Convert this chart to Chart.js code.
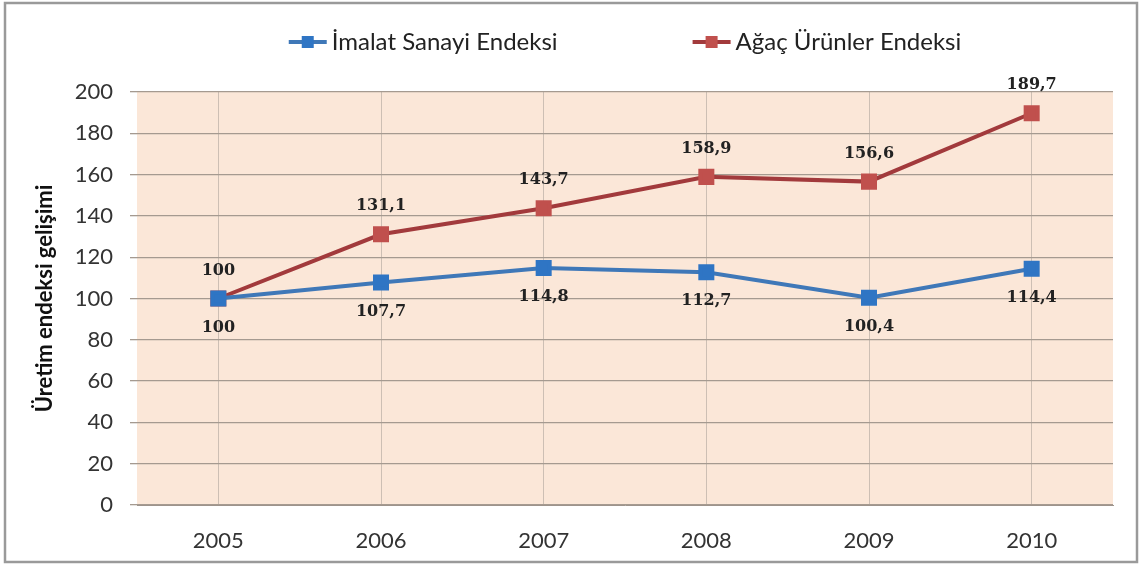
<!DOCTYPE html>
<html>
<head>
<meta charset="utf-8">
<script src="https://cdn.jsdelivr.net/npm/chart.js@4"></script>
<style>
html,body{margin:0;padding:0;background:#fff;}
#wrap{position:absolute;left:0;top:0;width:1141px;height:566px;}
</style>
</head>
<body>
<div id="wrap"><canvas id="c" width="1141" height="566"></canvas></div>
<script>
const years = ['2005','2006','2007','2008','2009','2010'];
const imalat = [100, 107.7, 114.8, 112.7, 100.4, 114.4];
const agac = [100, 131.1, 143.7, 158.9, 156.6, 189.7];
const seriesNames = ['İmalat Sanayi Endeksi', 'Ağaç Ürünler Endeksi'];
const yTitle = 'Üretim endeksi gelişimi';

const BLUE_LINE = '#3F78B8', BLUE_PT = '#2F75C4';
const RED_LINE = '#A23A3C', RED_PT = '#C0504D';

const fmt = v => String(v).replace('.', ',');

const frame = {
  id: 'frame',
  beforeDraw(chart) {
    const {ctx, chartArea: a} = chart;
    ctx.save();
    ctx.fillStyle = '#fff';
    ctx.fillRect(0, 0, chart.width, chart.height);
    ctx.strokeStyle = '#9a9a9a';
    ctx.lineWidth = 2.5;
    ctx.strokeRect(5, 3, 1132, 559);
    ctx.fillStyle = '#FBE7D8';
    ctx.fillRect(a.left, a.top, a.right - a.left, a.bottom - a.top);
    ctx.restore();
  }
};

const labels = {
  id: 'labels',
  afterDatasetsDraw(chart) {
    const ctx = chart.ctx;
    ctx.save();
    ctx.font = 'bold 16px "DejaVu Serif"';
    ctx.fillStyle = '#222';
    ctx.textAlign = 'center';
    ctx.textBaseline = 'middle';
    chart.data.datasets.forEach((ds, i) => {
      const meta = chart.getDatasetMeta(i);
      meta.data.forEach((pt, j) => {
        const dy = i === 1 ? -28 : 29;
        ctx.fillText(fmt(ds.data[j]), pt.x, pt.y + dy);
      });
    });
    ctx.restore();
  }
};

const legend = {
  id: 'customLegend',
  afterDraw(chart) {
    const ctx = chart.ctx;
    ctx.save();
    ctx.font = '24px Lato';
    ctx.textBaseline = 'middle';
    const items = [
      {t: seriesNames[0], line: BLUE_LINE, pt: BLUE_PT},
      {t: seriesNames[1], line: RED_LINE, pt: RED_PT}
    ];
    const sym = 38, gapT = 5, gapI = 135;
    const widths = items.map(it => sym + gapT + ctx.measureText(it.t).width);
    const total = widths[0] + widths[1] + gapI;
    let x = (chart.chartArea.left + chart.chartArea.right) / 2 - total / 2;
    const y = 42;
    items.forEach((it, i) => {
      ctx.strokeStyle = it.line;
      ctx.lineWidth = 4;
      ctx.beginPath(); ctx.moveTo(x, y); ctx.lineTo(x + sym, y); ctx.stroke();
      ctx.fillStyle = it.pt;
      ctx.fillRect(x + sym / 2 - 6, y - 6, 12, 12);
      ctx.fillStyle = '#222';
      ctx.fillText(it.t, x + sym + gapT, y);
      x += widths[i] + gapI;
    });
    ctx.restore();
  }
};

new Chart(document.getElementById('c'), {
  type: 'line',
  data: {
    labels: years,
    datasets: [
      {label: seriesNames[0], data: imalat, borderColor: BLUE_LINE, backgroundColor: BLUE_PT,
       pointBackgroundColor: BLUE_PT, pointBorderColor: BLUE_PT, borderWidth: 4,
       pointStyle: 'rect', pointRadius: 8.5, tension: 0},
      {label: seriesNames[1], data: agac, borderColor: RED_LINE, backgroundColor: RED_PT,
       pointBackgroundColor: RED_PT, pointBorderColor: RED_PT, borderWidth: 4,
       pointStyle: 'rect', pointRadius: 8.5, tension: 0}
    ]
  },
  options: {
    responsive: false,
    animation: false,
    layout: {padding: {left: 0, right: 28, top: 92, bottom: 0}},
    plugins: {legend: {display: false}, tooltip: {enabled: false}},
    scales: {
      x: {
        offset: true,
        grid: {offset: false, color: '#CDBFB4', lineWidth: 1, drawTicks: false},
        border: {display: true, color: '#9E948C', width: 1},
        ticks: {padding: 23, color: '#333', font: {family: 'Lato', size: 22}},
        afterFit: s => { s.height = 61; }
      },
      y: {
        min: 0, max: 200,
        ticks: {stepSize: 20, padding: 17, color: '#333', font: {family: 'Lato', size: 22}},
        grid: {color: '#A59A90', lineWidth: 1.3, tickLength: 7},
        border: {display: false},
        title: {display: true, text: yTitle, color: '#111',
                font: {family: 'Lato', size: 22, weight: 'bold'}, padding: {top: 32, bottom: 0}},
        afterFit: s => { s.width = 137; }
      }
    }
  },
  plugins: [frame, labels, legend]
});
</script>
</body>
</html>
